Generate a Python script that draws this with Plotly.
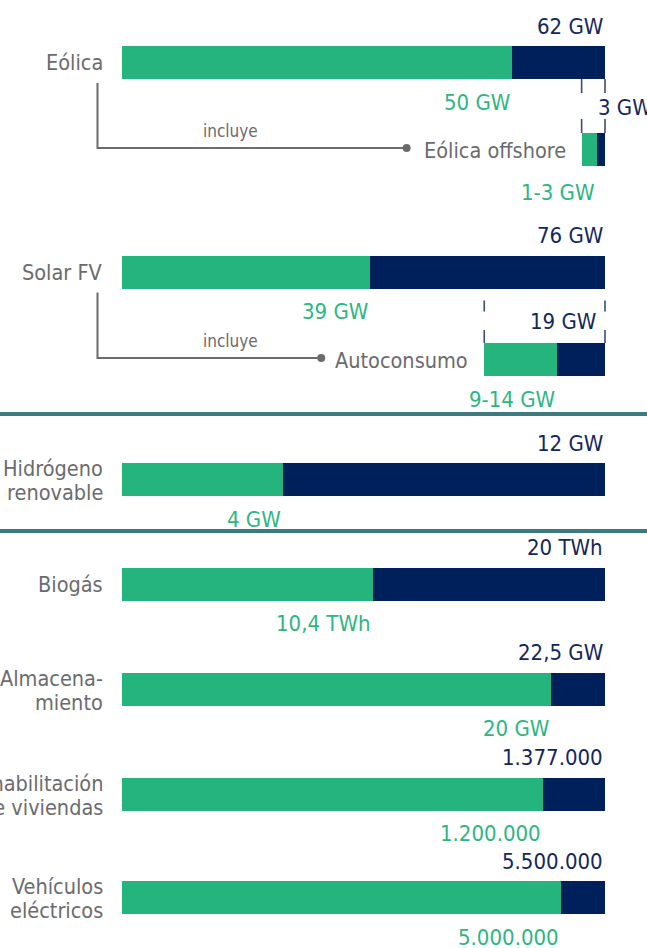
import plotly.graph_objects as go

# ---------------- data ----------------
categories = [["Eólica"], ["Solar FV"], ["Hidrógeno", "renovable"], ["Biogás"],
              ["Almacena-", "miento"], ["Rehabilitación", "de viviendas"], ["Vehículos", "eléctricos"]]
current_values = [50, 39, 4, 10.4, 20, 1200000, 5000000]
target_values = [62, 76, 12, 20, 22.5, 1377000, 5500000]
current_labels = ["50 GW", "39 GW", "4 GW", "10,4 TWh", "20 GW", "1.200.000", "5.000.000"]
target_labels = ["62 GW", "76 GW", "12 GW", "20 TWh", "22,5 GW", "1.377.000", "5.500.000"]

sub_parent = [0, 1]
sub_names = ["Eólica offshore", "Autoconsumo"]
sub_current_low = [1, 9]
sub_current_high = [3, 14]
sub_target = [3, 19]
sub_current_labels = ["1-3 GW", "9-14 GW"]
sub_target_labels = ["3 GW", "19 GW"]
link_text = "incluye"

# ---------------- layout / style ----------------
W, H = 647, 948
BAR_L, BAR_R = 122, 605           # pixel span of a full bar
row_y = [62.5, 272, 479.5, 584, 689, 794, 897.5]
sub_row_y = [149.5, 359.5]
separators_y = [414, 531]
THICK = 33

GREEN = "#25B37E"
GREEN_TXT = "#2DB681"
NAVY = "#00205B"
NAVY_TXT = "#14265C"
GRAY = "#6B6B6E"
TEAL = "#3B7A80"
BRACKET = "#3D4C70"
FONT = "DejaVu Sans Condensed, Roboto, sans-serif"
FS = 22
FS_CAT = 21.5

scale = BAR_R - BAR_L
def px2x(px):
    return (px - BAR_L) / scale
def x2px(x):
    return BAR_L + x * scale

# fractions of each bar
main_frac = [c / t for c, t in zip(current_values, target_values)]
sub_start = [1 - st / target_values[p] for st, p in zip(sub_target, sub_parent)]
sub_mid = [(lo + hi) / 2 / target_values[p] for lo, hi, p in zip(sub_current_low, sub_current_high, sub_parent)]
sub_len = [st / target_values[p] for st, p in zip(sub_target, sub_parent)]

fig = go.Figure()
# main bars
fig.add_trace(go.Bar(y=row_y, x=main_frac, base=[0] * len(row_y), orientation="h",
                     width=THICK, marker=dict(color=GREEN, line=dict(width=0)), hoverinfo="skip"))
fig.add_trace(go.Bar(y=row_y, x=[1 - f for f in main_frac], base=main_frac, orientation="h",
                     width=THICK, marker=dict(color=NAVY, line=dict(width=0)), hoverinfo="skip"))
# sub bars
fig.add_trace(go.Bar(y=sub_row_y, x=sub_mid, base=sub_start, orientation="h",
                     width=THICK, marker=dict(color=GREEN, line=dict(width=0)), hoverinfo="skip"))
fig.add_trace(go.Bar(y=sub_row_y, x=[l - m for l, m in zip(sub_len, sub_mid)],
                     base=[s + m for s, m in zip(sub_start, sub_mid)], orientation="h",
                     width=THICK, marker=dict(color=NAVY, line=dict(width=0)), hoverinfo="skip"))

ann = []
def text(x, y, t, color, size=FS, xanchor="right"):
    ann.append(dict(x=x, y=y, xref="x", yref="y", text=t, showarrow=False,
                    xanchor=xanchor, yanchor="middle",
                    font=dict(family=FONT, size=size, color=color)))

label_x = px2x(105)
for i, yc in enumerate(row_y):
    lines = categories[i]
    if len(lines) == 1:
        text(label_x, yc, lines[0], GRAY, size=FS_CAT)
    else:
        text(label_x, yc - 11, lines[0], GRAY, size=FS_CAT)
        text(label_x, yc + 13, lines[1], GRAY, size=FS_CAT)
    text(1.0, yc - THICK / 2 - 20, target_labels[i], NAVY_TXT)
    text(main_frac[i], yc + THICK / 2 + 23, current_labels[i], GREEN_TXT)

shapes = []
for j, yc in enumerate(sub_row_y):
    p = sub_parent[j]
    py = row_y[p]
    # sub name
    text(sub_start[j] - px2x(BAR_L + 14), yc + 1, sub_names[j], GRAY, size=FS_CAT, xanchor="right")
    # green label
    text(sub_start[j] + sub_mid[j], yc + THICK / 2 + 26 - 3 * j, sub_current_labels[j], GREEN_TXT)
    # brackets
    x_l, x_r = sub_start[j], sub_len[j] + sub_start[j]
    top_parent = py + THICK / 2 + (0 if j == 0 else 12)
    top_sub = yc - THICK / 2
    gap_top = top_parent + (14 if j == 0 else 11)
    gap_bot = top_sub - (14 if j == 0 else 13)
    for xx in (x_l, x_r):
        shapes.append(dict(type="line", xref="x", yref="y", x0=xx, x1=xx, y0=top_parent, y1=gap_top,
                           line=dict(color=BRACKET, width=1.6)))
        shapes.append(dict(type="line", xref="x", yref="y", x0=xx, x1=xx, y0=gap_bot, y1=top_sub,
                           line=dict(color=BRACKET, width=1.6)))
    mid_y = (gap_top + gap_bot) / 2 + 1
    if j == 0:
        text(x_r - px2x(BAR_L + 9), mid_y, sub_target_labels[j], NAVY_TXT, xanchor="left")
    else:
        text(x_r - px2x(BAR_L + 7), mid_y, sub_target_labels[j], NAVY_TXT)
    # connector
    name_w = [148, 136][j]
    dot_px = x2px(sub_start[j]) - 14 - name_w - 13
    cx = px2x(97.5)
    shapes.append(dict(type="path", xref="x", yref="y",
                       path=f"M {cx},{py + THICK / 2 + 4} L {cx},{yc - 1.5} L {px2x(dot_px)},{yc - 1.5}",
                       line=dict(color=GRAY, width=2)))
    shapes.append(dict(type="circle", xref="x", yref="y",
                       x0=px2x(dot_px - 4), x1=px2x(dot_px + 4), y0=yc - 5.5, y1=yc + 2.5,
                       fillcolor=GRAY, line=dict(width=0)))
    ann.append(dict(x=px2x(230), y=yc - 19, xref="x", yref="y", text=link_text, showarrow=False,
                    xanchor="center", yanchor="middle", font=dict(family=FONT, size=17, color=GRAY)))

for sy in separators_y:
    shapes.append(dict(type="line", xref="paper", yref="y", x0=0, x1=1, y0=sy, y1=sy,
                       line=dict(color=TEAL, width=4), layer="above"))

fig.update_layout(
    width=W, height=H, margin=dict(l=0, r=0, t=0, b=0),
    paper_bgcolor="white", plot_bgcolor="white",
    barmode="overlay", bargap=0, showlegend=False,
    xaxis=dict(range=[px2x(0), px2x(W)], visible=False, fixedrange=True),
    yaxis=dict(range=[H, 0], visible=False, fixedrange=True),
    annotations=ann, shapes=shapes,
)
fig.write_html("out.html", config={"displayModeBar": False},
               post_script="document.body.style.margin='0px';document.body.style.overflow='hidden';")
